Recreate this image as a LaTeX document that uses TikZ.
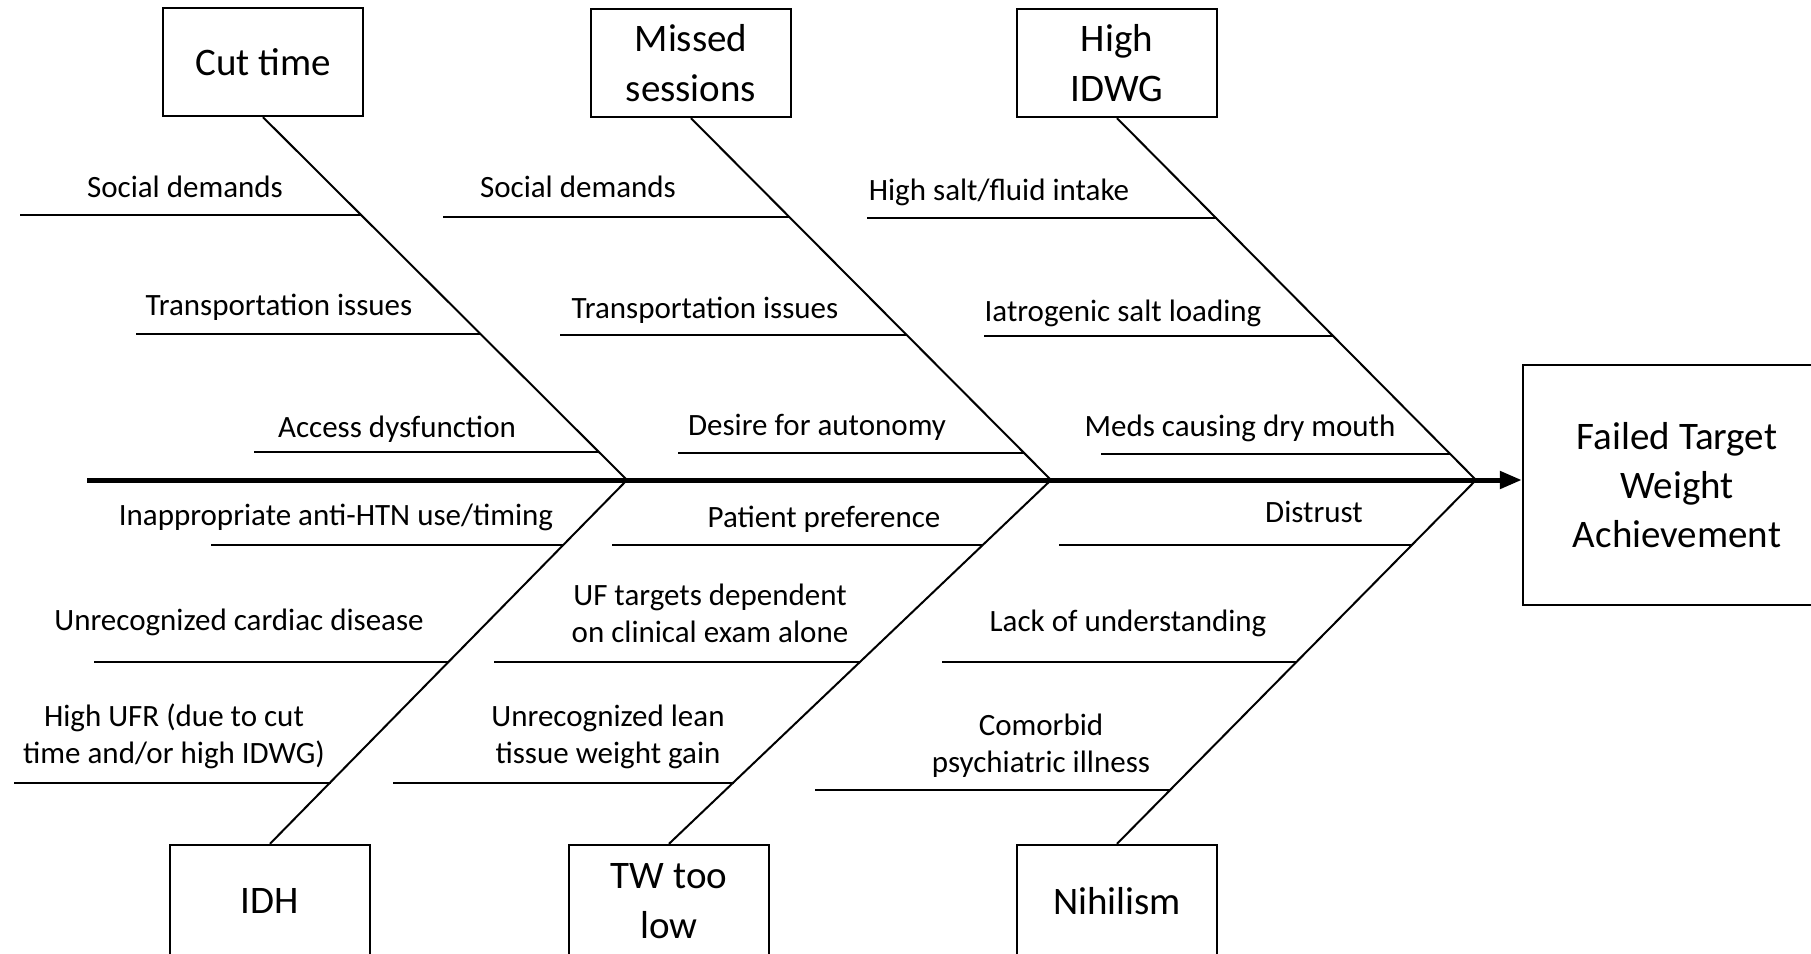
\documentclass[tikz,border=0pt]{standalone}
\usepackage{fontspec}
\setmainfont{Carlito}
\usetikzlibrary{arrows.meta}
\begin{document}
\begin{tikzpicture}[x=1pt,y=-1pt,
  box/.style={draw, line width=2.4pt, minimum width=200pt, minimum height=108pt,
    inner sep=0pt, align=center, font=\fontsize{39}{50}\selectfont},
  bone/.style={line width=2pt},
  rib/.style={line width=2.6pt},
  spine/.style={line width=5pt, -{Triangle[length=22pt,width=17pt]}},
  lbl/.style={anchor=base, inner sep=0pt, font=\fontsize{31}{37}\selectfont},
  lbltwo/.style={anchor=center, align=center, inner sep=0pt, font=\fontsize{31}{37}\selectfont}]
\useasboundingbox (0,0) rectangle (1811,953);
\clip (0,0) rectangle (1811,953);

% category boxes
\node[box] (cut) at (263,62) {Cut time};
\node[box] (missed) at (691,63) {Missed\\sessions};
\node[box] (high) at (1117,63) {High\\IDWG};
\node[box, minimum height=112pt] (idh) at (270,901) {IDH};
\node[box, minimum height=112pt] (tw) at (669,901) {TW too\\low};
\node[box, minimum height=112pt] (nih) at (1117,901) {Nihilism};
% effect box
\node[box, minimum width=308pt, minimum height=240pt, font=\fontsize{39}{49}\selectfont]
  (fail) at (1677,485) {Failed Target\\Weight\\Achievement};

% spine and junctions
\coordinate (tail) at (87,480);
\coordinate (j1) at (627,480);
\coordinate (j2) at (1051,480);
\coordinate (j3) at (1476,480);
\draw[spine] (tail) -- (fail.west |- j3);

% main bones
\draw[bone] (cut.south) -- (j1);
\draw[bone] (missed.south) -- (j2);
\draw[bone] (high.south) -- (j3);
\draw[bone] (idh.north) -- (j1);
\draw[bone] (tw.north) -- (j2);
\draw[bone] (nih.north) -- (j3);

% Cut time causes
\draw[rib] (20,215) -- (362,215);
\node[lbl] (c1) at (185,197) {Social demands};
\draw[rib] (136,334) -- (481,334);
\node[lbl] (c2) at (279,315) {Transportation issues};
\draw[rib] (254,452) -- (599,452);
\node[lbl] (c3) at (397,437) {Access dysfunction};

% Missed sessions causes
\draw[rib] (443,217) -- (790,217);
\node[lbl] (m1) at (578,197) {Social demands};
\draw[rib] (560,335) -- (907,335);
\node[lbl] (m2) at (705,318) {Transportation issues};
\draw[rib] (678,453) -- (1024,453);
\node[lbl] (m3) at (817,435) {Desire for autonomy};

% High IDWG causes
\draw[rib] (867,218) -- (1217,218);
\node[lbl] (h1) at (999,200) {High salt/fluid intake};
\draw[rib] (984,336) -- (1334,336);
\node[lbl] (h2) at (1123,321) {Iatrogenic salt loading};
\draw[rib] (1101,454) -- (1450,454);
\node[lbl] (h3) at (1240,436) {Meds causing dry mouth};

% IDH causes
\draw[rib] (211,545) -- (563,545);
\node[lbl] (i1) at (336,525) {Inappropriate anti-HTN use/timing};
\draw[rib] (94,662) -- (449,662);
\node[lbl] (i2) at (239,630) {Unrecognized cardiac disease};
\draw[rib] (14,783) -- (331,783);
\node[lbltwo] (i3) at (174,736) {High UFR (due to cut\\time and/or high IDWG)};

% TW too low causes
\draw[rib] (612,545) -- (983,545);
\node[lbl] (t1) at (824,527) {Patient preference};
\draw[rib] (494,662) -- (860,662);
\node[lbltwo] (t2) at (710,613) {UF targets dependent\\on clinical exam alone};
\draw[rib] (393,783) -- (734,783);
\node[lbltwo] (t3) at (608,737) {Unrecognized lean\\tissue weight gain};

% Nihilism causes
\draw[rib] (1059,545) -- (1412,545);
\node[lbl] (n1) at (1314,522) {Distrust};
\draw[rib] (942,662) -- (1297,662);
\node[lbl] (n2) at (1128,631) {Lack of understanding};
\draw[rib] (815,790) -- (1171,790);
\node[lbltwo] (n3) at (1041,746) {Comorbid\\psychiatric illness};
\end{tikzpicture}
\end{document}
